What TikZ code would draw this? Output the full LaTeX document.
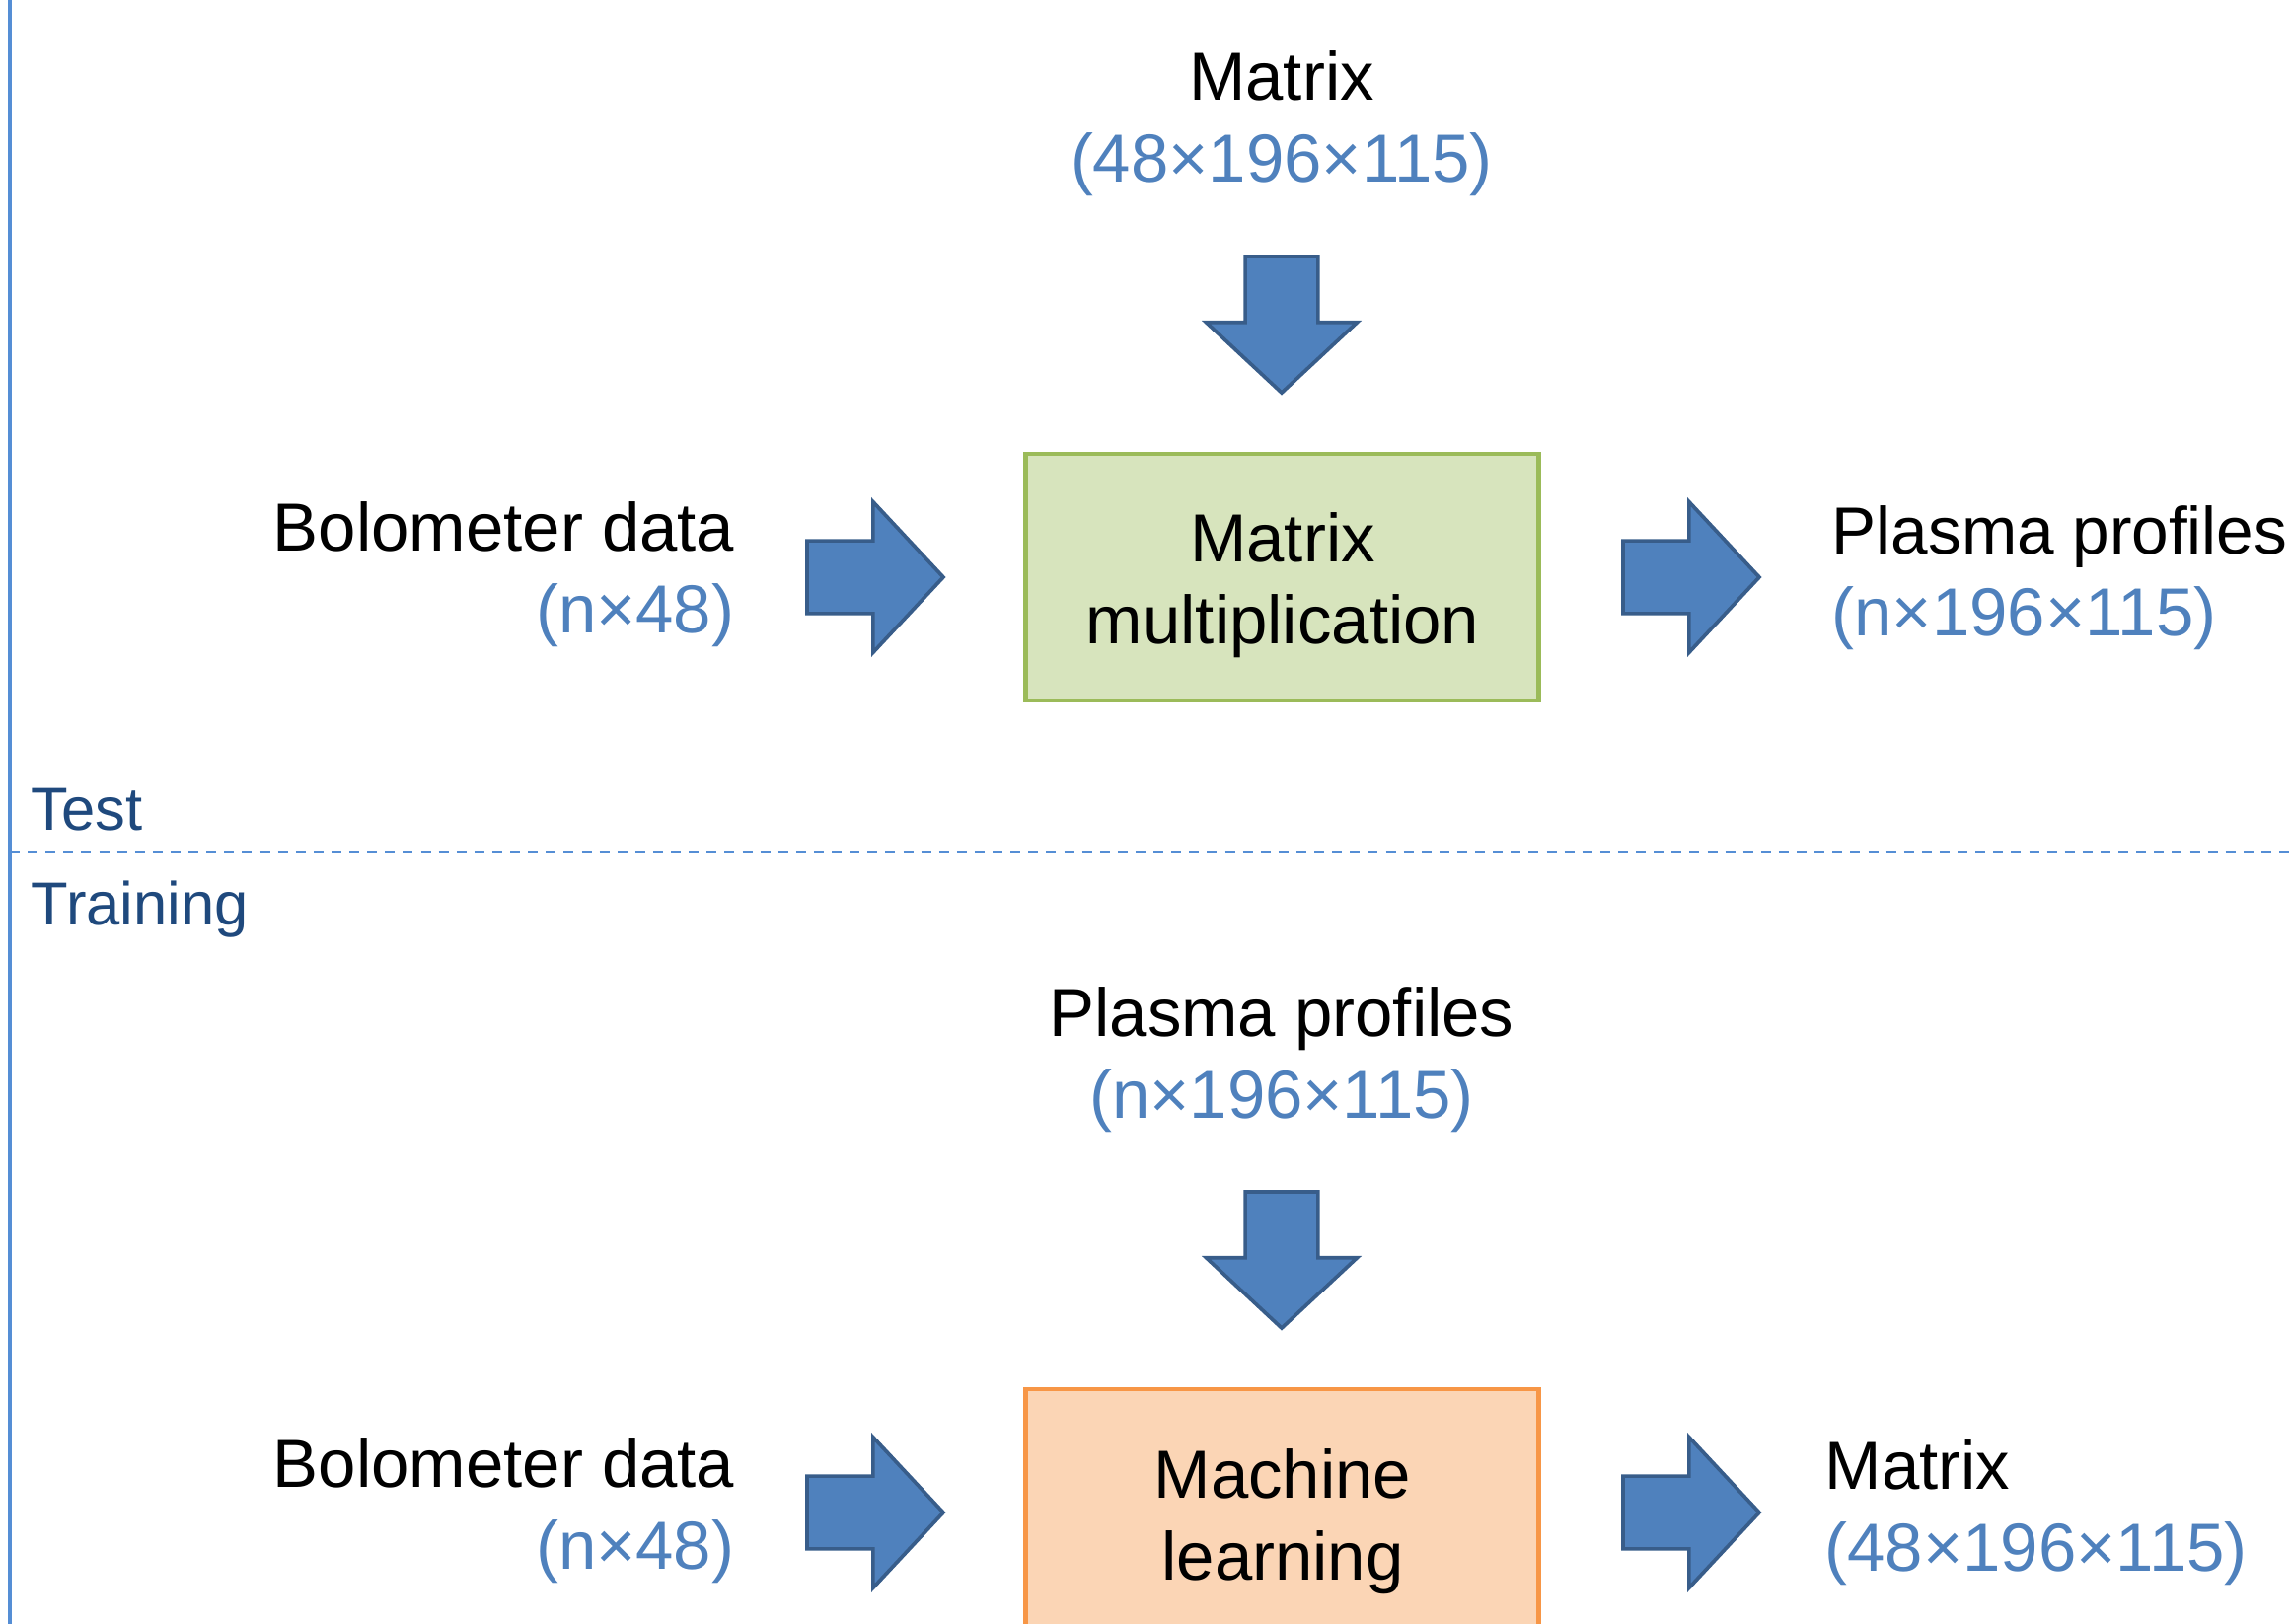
\documentclass[tikz,border=0pt]{standalone}
\usepackage{fontspec}
\setmainfont{Liberation Sans}
\usetikzlibrary{shapes.arrows}

\definecolor{arrowfill}{HTML}{4F81BD}
\definecolor{arrowline}{HTML}{385D8A}
\definecolor{dimblue}{HTML}{4F81BD}
\definecolor{phaseblue}{HTML}{1F497D}
\definecolor{ruleblue}{HTML}{558ED5}
\definecolor{greenfill}{HTML}{D7E4BD}
\definecolor{greenline}{HTML}{9BBB59}
\definecolor{orangefill}{HTML}{FBD5B5}
\definecolor{orangeline}{HTML}{F79646}

\newcommand{\mainsize}{\fontsize{19.6pt}{23.6pt}\selectfont}
\newcommand{\tightsize}{\fontsize{19.2pt}{23.2pt}\selectfont}
\newcommand{\phasesize}{\fontsize{17.5pt}{21pt}\selectfont}

\tikzset{
  txt/.style={font=\mainsize, inner sep=0pt, text=black},
  dimtxt/.style={txt, text=dimblue},
  phase/.style={font=\phasesize, inner sep=0pt, text=phaseblue, anchor=base west},
  blockarrow/.style={single arrow, draw=arrowline, fill=arrowfill,
    line width=1.05pt, inner xsep=0pt, inner ysep=0.35cm, outer sep=0pt,
    minimum height=1.38cm,
    single arrow head extend=0.395cm, single arrow tip angle=94,
    single arrow head indent=0pt, anchor=tail},
  procbox/.style={draw, line width=1.35pt, inner sep=0pt,
    minimum width=5.19cm, minimum height=2.50cm},
  greenbox/.style={procbox, draw=greenline, fill=greenfill},
  orangebox/.style={procbox, draw=orangeline, fill=orangefill}
}

\begin{document}
\begin{tikzpicture}[x=0.01cm, y=-0.01cm]
  \useasboundingbox (0,0) rectangle (2323,1646);
  \clip (0,0) rectangle (2323,1646);

  % frame rule on the left and the phase separator
  \coordinate (ruletop) at (10,0);
  \coordinate (rulebot) at (10,1646);
  \draw[ruleblue, line width=0.9pt] (ruletop) -- (rulebot);
  \coordinate (sepl) at (10,864);
  \coordinate (sepr) at (2323,864);
  \draw[ruleblue, line width=0.65pt, dash pattern=on 2.85pt off 2.3pt] (sepl) -- (sepr);

  \node[phase] (test) at (31,841) {Test};
  \node[phase] (training) at (31,937) {Training};

  % ---- test phase ----
  \node[txt, anchor=base] (tmat) at (1299,102) {Matrix};
  \node[dimtxt, anchor=base] (tmatdim) at (1299,185) {(48×196×115)};
  \node[blockarrow, rotate=-90] (tdown) at (1299,260) {};

  \node[greenbox] (mult) at (1299.5,585) {};
  \node[txt, anchor=base] (multa) at (1300,570) {Matrix};
  \node[txt, anchor=base] (multb) at (1300,653) {multiplication};

  \node[txt, anchor=base east] (tbolo) at (745,559) {Bolometer data};
  \node[dimtxt, anchor=base east] (tbolodim) at (745,642) {(n×48)};
  \node[blockarrow] (tin) at (818,585) {};

  \node[blockarrow] (tout) at (1645,585) {};
  \node[txt, font=\tightsize, anchor=base west] (tprof) at (1856,562) {Plasma profiles};
  \node[dimtxt, anchor=base west] (tprofdim) at (1856,645) {(n×196×115)};

  % ---- training phase ----
  \node[txt, anchor=base] (lprof) at (1299,1050) {Plasma profiles};
  \node[dimtxt, anchor=base] (lprofdim) at (1299,1133) {(n×196×115)};
  \node[blockarrow, rotate=-90] (ldown) at (1299,1208) {};

  \node[orangebox] (ml) at (1299.5,1533) {};
  \node[txt, anchor=base] (mla) at (1300,1518) {Machine};
  \node[txt, anchor=base] (mlb) at (1300,1601) {learning};

  \node[txt, anchor=base east] (lbolo) at (745,1507) {Bolometer data};
  \node[dimtxt, anchor=base east] (lbolodim) at (745,1590) {(n×48)};
  \node[blockarrow] (lin) at (818,1533) {};

  \node[blockarrow] (lout) at (1645,1533) {};
  \node[txt, anchor=base west] (lmat) at (1849,1509) {Matrix};
  \node[dimtxt, anchor=base west] (lmatdim) at (1849,1592) {(48×196×115)};
\end{tikzpicture}
\end{document}
